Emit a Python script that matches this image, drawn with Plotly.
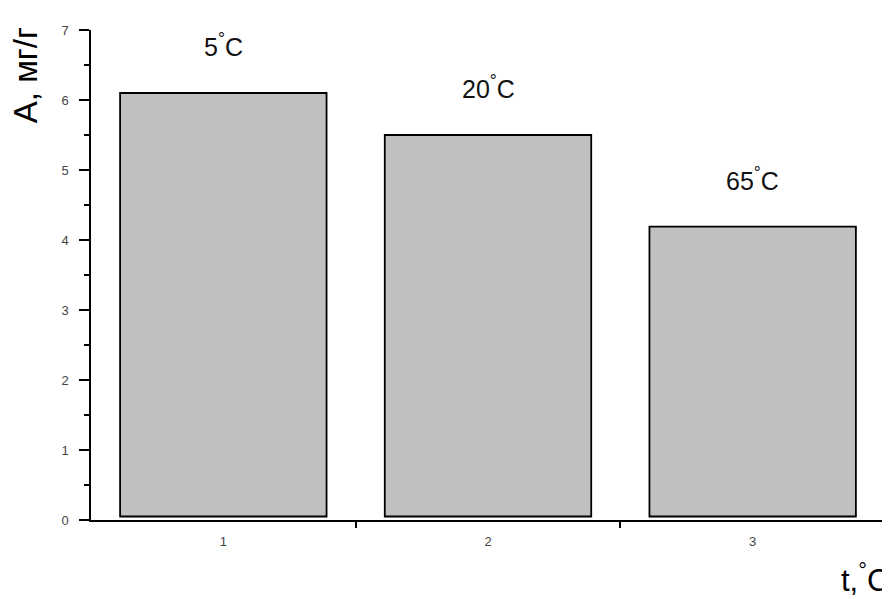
import plotly.graph_objects as go

categories = [1, 2, 3]
values = [6.1, 5.5, 4.19]
bar_labels = ["5<sup>°</sup>C", "20<sup>°</sup>C", "65<sup>°</sup>C"]
y_ticks = [0, 1, 2, 3, 4, 5, 6, 7]

FONT = "Liberation Sans, Arial, sans-serif"

fig = go.Figure()
fig.add_trace(go.Bar(
    x=categories, y=[v - 0.05 for v in values], base=0.05,
    width=0.78,
    marker=dict(color="#c0c0c0", line=dict(color="#000000", width=1.8)),
    hoverinfo="skip",
))

for c, v, t in zip(categories, values, bar_labels):
    fig.add_annotation(x=c, y=v + 0.68, text=t, showarrow=False,
                       font=dict(family=FONT, size=25, color="#111"),
                       xref="x", yref="y", yanchor="middle")

fig.add_annotation(x=-0.083, y=1.01, xref="paper", yref="paper",
                   text="A, мг/г", textangle=-90, showarrow=False,
                   xanchor="center", yanchor="top",
                   font=dict(family=FONT, size=33, color="#000"))
fig.add_annotation(x=1.007, y=-0.074, xref="paper", yref="paper",
                   text="t,<sup>°</sup>C", showarrow=False,
                   xanchor="right", yanchor="top",
                   font=dict(family=FONT, size=31, color="#000"))

fig.update_layout(
    width=882, height=591,
    margin=dict(l=83, r=5, t=22, b=79),
    plot_bgcolor="white", paper_bgcolor="white",
    showlegend=False,
    xaxis=dict(range=[0.5, 3.5], tickvals=categories, ticktext=[str(c) for c in categories],
               ticks="", showgrid=False, zeroline=False,
               showline=True, linecolor="#000", linewidth=1.5,
               ticklabelstandoff=9,
               tickfont=dict(family=FONT, size=13, color="#444"),
               minor=dict(tickvals=[1.5, 2.5, 3.5], ticks="outside", ticklen=6,
                          tickcolor="#000", tickwidth=1.5)),
    yaxis=dict(range=[0, 7], tickvals=y_ticks, ticks="outside", ticklen=10,
               tickcolor="#000", tickwidth=1.5, showgrid=False, zeroline=False,
               showline=True, linecolor="#000", linewidth=1.5,
               ticklabelstandoff=8,
               tickfont=dict(family=FONT, size=13, color="#444"),
               minor=dict(dtick=0.5, ticks="outside", ticklen=5,
                          tickcolor="#000", tickwidth=1.5)),
)

fig.write_html("out.html")
